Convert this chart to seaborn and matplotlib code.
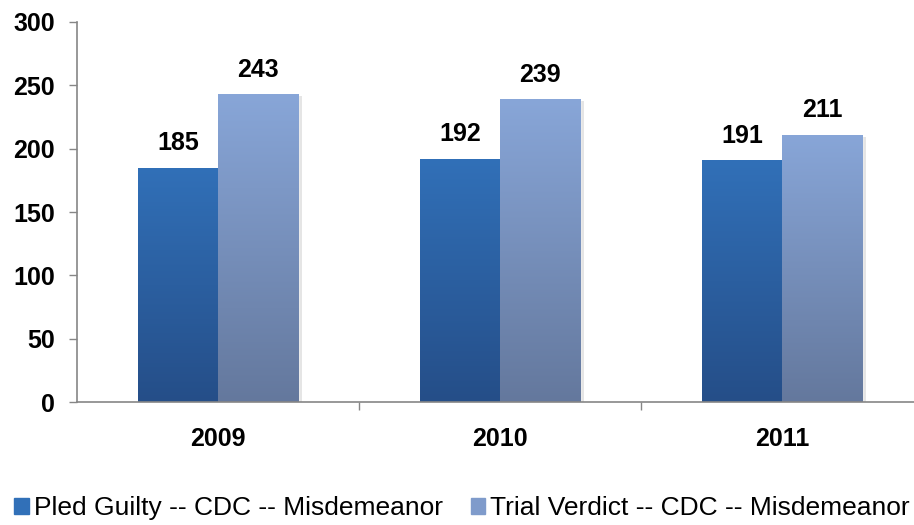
import numpy as np
import pandas as pd
import matplotlib.pyplot as plt
import matplotlib.colors as mcolors
import seaborn as sns

# Data
years = ["2009", "2010", "2011"]
pled_guilty = [185, 192, 191]
trial_verdict = [243, 239, 211]
series_names = ["Pled Guilty -- CDC -- Misdemeanor", "Trial Verdict -- CDC -- Misdemeanor"]

df = pd.DataFrame({
    "year": years * 2,
    "count": pled_guilty + trial_verdict,
    "series": [series_names[0]] * 3 + [series_names[1]] * 3,
})

sns.set_style("white")
plt.rcParams["font.family"] = ["Liberation Sans", "DejaVu Sans"]
plt.rcParams["text.color"] = "black"
plt.rcParams["xtick.color"] = "black"
plt.rcParams["ytick.color"] = "black"

# gradient colours (top, bottom) per series
grads = {
    series_names[0]: ("#3170B8", "#254E88"),
    series_names[1]: ("#88A6D8", "#64789D"),
}

fig = plt.figure(figsize=(9.14, 5.25), dpi=100)
ax = fig.add_axes([77 / 914, 123 / 525, 846 / 914, 380 / 525])

sns.barplot(data=df, x="year", y="count", hue="series", hue_order=series_names,
            palette=[grads[s][0] for s in series_names], width=0.57, gap=0,
            ax=ax, legend=False)

# gradient fill + value labels
for cont, name in zip(ax.containers, series_names):
    top, bot = grads[name]
    cmap = mcolors.LinearSegmentedColormap.from_list(name, [bot, top])
    for p in cont.patches:
        x, w, h = p.get_x(), p.get_width(), p.get_height()
        # soft shadow
        ax.add_patch(plt.Rectangle((x + 0.012, 0), w, h - 1.5, color="#000000",
                                   alpha=0.10, zorder=p.get_zorder() - 0.1, lw=0))
        grad = np.linspace(0, 1, 256).reshape(-1, 1)
        im = ax.imshow(grad, cmap=cmap, origin="lower", aspect="auto",
                       extent=[x, x + w, 0, h], zorder=p.get_zorder() + 0.1)
        im.set_clip_path(p)
    ax.bar_label(cont, padding=9, fontsize=18, fontweight="bold", color="black")

ax.set_xlim(-0.5, 2.5)
ax.set_ylim(0, 300)

ax.set_yticks([0, 50, 100, 150, 200, 250, 300])
ax.tick_params(axis="y", labelsize=18, length=6, width=1, color="#868686", pad=10, left=True)
for lab in ax.get_yticklabels():
    lab.set_fontweight("bold")
ax.tick_params(axis="x", which="major", labelsize=18, length=0, pad=18)
for lab in ax.get_xticklabels():
    lab.set_fontweight("bold")
ax.set_xticks([0.5, 1.5], minor=True)
ax.tick_params(axis="x", which="minor", length=6, width=1, color="#868686", bottom=True)

for s in ["top", "right"]:
    ax.spines[s].set_visible(False)
for s in ["left", "bottom"]:
    ax.spines[s].set_color("#868686")
    ax.spines[s].set_linewidth(1.2)
ax.set_xlabel("")
ax.set_ylabel("")

handles = [plt.Rectangle((0, 0), 1, 1, color=grads[series_names[0]][0]),
           plt.Rectangle((0, 0), 1, 1, color="#7F9BCB")]
fig.legend(handles, series_names, loc="center left", bbox_to_anchor=(14 / 914, 17 / 525),
           ncol=2, frameon=False, fontsize=19, handlelength=0.55, handleheight=0.55,
           handletextpad=0.2, columnspacing=1.05, borderaxespad=0, borderpad=0)

fig.savefig("out.png", dpi=100)
